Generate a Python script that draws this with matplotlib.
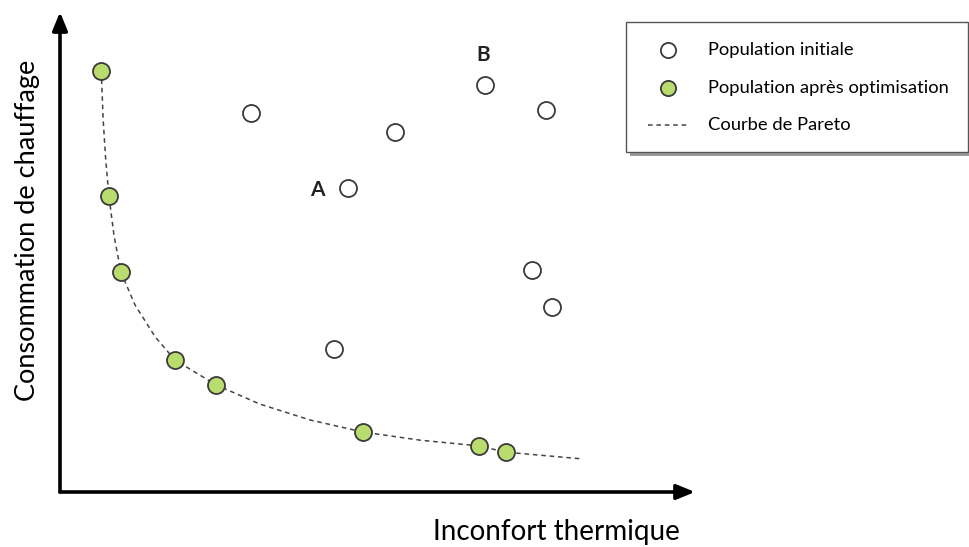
import matplotlib
matplotlib.use('Agg')
import matplotlib.pyplot as plt
from matplotlib.patches import Rectangle

plt.rcParams['font.family'] = ['Lato', 'DejaVu Sans']

# population initiale (unites arbitraires, 0-100 sur chaque axe)
init_x = [30.1, 52.8, 45.4, 66.9, 76.5, 74.3, 77.5, 43.1]
init_y = [79.0, 75.0, 63.3, 84.8, 79.6, 46.3, 38.5, 29.8]

# population apres optimisation
opt_x = [6.5, 7.7, 9.6, 18.1, 24.6, 47.7, 66.0, 70.2]
opt_y = [87.7, 61.7, 45.8, 27.5, 22.3, 12.5, 9.6, 8.3]

# courbe de Pareto
pareto_x = [6.5, 6.8, 7.2, 7.7, 8.5, 9.6, 11.8, 15.0, 18.1, 24.6,
            31.5, 39.4, 47.7, 56.7, 66.0, 70.2, 82.2]
pareto_y = [87.7, 77.5, 69.2, 61.7, 53.5, 45.8, 39.0, 32.3, 27.5, 22.3,
            18.3, 15.0, 12.5, 10.8, 9.6, 8.3, 6.9]

labels = ['Population initiale', 'Population après optimisation', 'Courbe de Pareto']
green = '#b8dc6e'
edge = '#3a3a3a'

fig = plt.figure(figsize=(9.7, 5.47), dpi=100)
ax = fig.add_axes([60/970, 55/547, 635/970, 480/547])
ax.set_xlim(0, 100)
ax.set_ylim(0, 100)
ax.axis('off')

# axes with arrows
arrow = dict(arrowstyle='-|>,head_length=1.1,head_width=0.45', color='black',
             lw=2.6, shrinkA=0, shrinkB=0)
ax.annotate('', xy=(100, 0), xytext=(0, 0), arrowprops=arrow, annotation_clip=False)
ax.annotate('', xy=(0, 100), xytext=(0, 0), arrowprops=arrow, annotation_clip=False)

ax.plot(pareto_x, pareto_y, ls=(0, (3, 2.5)), color='#444444', lw=1.1, zorder=2)
ax.scatter(init_x, init_y, s=150, facecolor='white', edgecolor=edge, lw=1.3, zorder=3)
ax.scatter(opt_x, opt_y, s=150, facecolor=green, edgecolor=edge, lw=1.3, zorder=3)

ax.text(40.6, 62.9, 'A', fontsize=15, fontweight='bold', ha='center', va='center', color='#222222')
ax.text(66.7, 91.0, 'B', fontsize=15, fontweight='bold', ha='center', va='center', color='#222222')

fig.text(433/970, 1 - 532/547, 'Inconfort thermique', fontsize=20, ha='left', va='center')
fig.text(28/970, 1 - 230/547, 'Consommation de chauffage', fontsize=19.5, rotation=90,
         ha='center', va='center')

# legend box with shadow
fig.patches.append(Rectangle((630/970, 1 - 156/547), 342/970, 130/547, transform=fig.transFigure,
                             facecolor='#9a9a9a', edgecolor='none', zorder=1))
fig.patches.append(Rectangle((626/970, 1 - 152/547), 342/970, 130/547, transform=fig.transFigure,
                             facecolor='white', edgecolor='#555555', lw=1.0, zorder=2))
lax = fig.add_axes([626/970, 1 - 152/547, 342/970, 130/547])
lax.set_xlim(626, 968)
lax.set_ylim(152, 22)
lax.axis('off')
lax.set_zorder(3)
lax.scatter([668], [50], s=120, facecolor='white', edgecolor=edge, lw=1.3)
lax.scatter([668], [88], s=120, facecolor=green, edgecolor=edge, lw=1.3)
lax.plot([648, 690], [125, 125], ls=(0, (3, 2.5)), color='#444444', lw=1.1)
for yy, lab in zip([50, 88, 125], labels):
    lax.text(708, yy, lab, fontsize=13.2, ha='left', va='center')

fig.savefig('out.png', dpi=100)
